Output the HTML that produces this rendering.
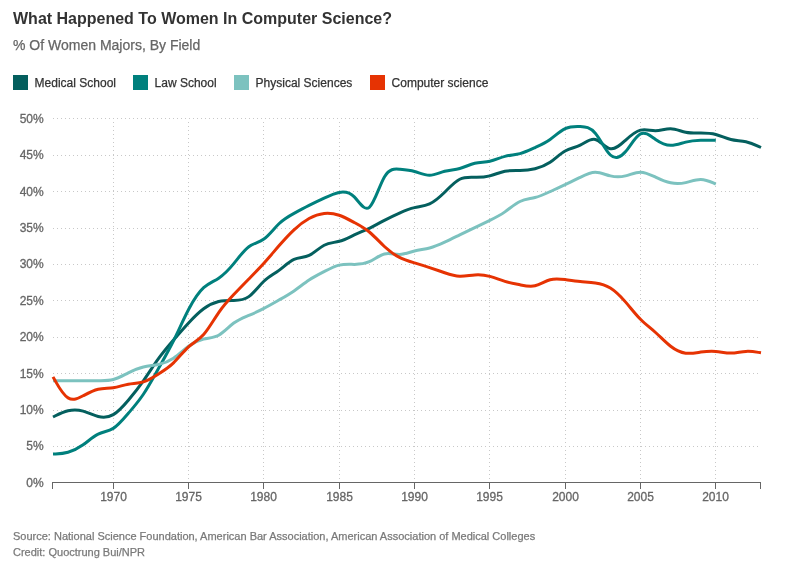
<!DOCTYPE html>
<html><head><meta charset="utf-8"><title>What Happened To Women In Computer Science?</title>
<style>
html,body{margin:0;padding:0;background:#fff;}
body{width:800px;height:568px;overflow:hidden;position:relative;will-change:transform;font-family:"Liberation Sans",sans-serif;}
h1{position:absolute;left:13px;top:10px;margin:0;font-size:16px;line-height:18px;font-weight:bold;color:#333;white-space:nowrap;}
h2{position:absolute;left:13px;top:36px;margin:0;font-size:14px;line-height:18px;font-weight:normal;color:#666;white-space:nowrap;-webkit-text-stroke:0.25px #666;}
.key{position:absolute;top:75px;height:15px;}
.key b{position:absolute;left:0;top:0;width:15px;height:15px;display:block;}
.key span{position:absolute;left:21.6px;top:1px;font-size:12px;line-height:15px;color:#333;white-space:nowrap;-webkit-text-stroke:0.25px #333;}
.foot{position:absolute;left:13px;font-size:11px;line-height:14px;color:#7a7a7a;white-space:nowrap;-webkit-text-stroke:0.25px #7a7a7a;}
svg{position:absolute;left:0;top:0;}
svg text{font-family:"Liberation Sans",sans-serif;font-size:12px;fill:#666;stroke:#666;stroke-width:0.3px;}
.grid line{stroke:#c8c8c8;stroke-width:1;stroke-dasharray:1,3;shape-rendering:crispEdges;}
.axis line,.axis path{stroke:#666;stroke-width:1;fill:none;shape-rendering:crispEdges;}
.lines path{fill:none;stroke-width:3;stroke-linejoin:round;}
</style></head><body>
<h1>What Happened To Women In Computer Science?</h1>
<h2>% Of Women Majors, By Field</h2>
<div class="key" style="left:13px"><b style="background:#045f5e"></b><span>Medical School</span></div>
<div class="key" style="left:133px"><b style="background:#00807d"></b><span>Law School</span></div>
<div class="key" style="left:234px"><b style="background:#7cc2bf"></b><span>Physical Sciences</span></div>
<div class="key" style="left:370px"><b style="background:#e63303"></b><span>Computer science</span></div>
<svg width="800" height="568" viewBox="0 0 800 568">
<g class="grid">
<line x1="53" x2="761" y1="446.5" y2="446.5"/>
<line x1="53" x2="761" y1="410.5" y2="410.5"/>
<line x1="53" x2="761" y1="373.5" y2="373.5"/>
<line x1="53" x2="761" y1="337.5" y2="337.5"/>
<line x1="53" x2="761" y1="300.5" y2="300.5"/>
<line x1="53" x2="761" y1="264.5" y2="264.5"/>
<line x1="53" x2="761" y1="228.5" y2="228.5"/>
<line x1="53" x2="761" y1="191.5" y2="191.5"/>
<line x1="53" x2="761" y1="155.5" y2="155.5"/>
<line x1="53" x2="761" y1="118.5" y2="118.5"/>
<line x1="113.5" x2="113.5" y1="122" y2="482"/>
<line x1="188.5" x2="188.5" y1="122" y2="482"/>
<line x1="263.5" x2="263.5" y1="122" y2="482"/>
<line x1="339.5" x2="339.5" y1="122" y2="482"/>
<line x1="414.5" x2="414.5" y1="122" y2="482"/>
<line x1="489.5" x2="489.5" y1="122" y2="482"/>
<line x1="565.5" x2="565.5" y1="122" y2="482"/>
<line x1="640.5" x2="640.5" y1="122" y2="482"/>
<line x1="715.5" x2="715.5" y1="122" y2="482"/>
</g>
<g class="axis">
<path d="M52.5,488.5V482.5H760.5V488.5"/>
<line x1="113.5" x2="113.5" y1="482.5" y2="488.5"/>
<line x1="188.5" x2="188.5" y1="482.5" y2="488.5"/>
<line x1="263.5" x2="263.5" y1="482.5" y2="488.5"/>
<line x1="339.5" x2="339.5" y1="482.5" y2="488.5"/>
<line x1="414.5" x2="414.5" y1="482.5" y2="488.5"/>
<line x1="489.5" x2="489.5" y1="482.5" y2="488.5"/>
<line x1="565.5" x2="565.5" y1="482.5" y2="488.5"/>
<line x1="640.5" x2="640.5" y1="482.5" y2="488.5"/>
<line x1="715.5" x2="715.5" y1="482.5" y2="488.5"/>
</g>
<g class="ylab">
<text x="43.7" y="487.0" text-anchor="end">0%</text>
<text x="43.7" y="450.0" text-anchor="end">5%</text>
<text x="43.7" y="414.0" text-anchor="end">10%</text>
<text x="43.7" y="378.0" text-anchor="end">15%</text>
<text x="43.7" y="341.0" text-anchor="end">20%</text>
<text x="43.7" y="305.0" text-anchor="end">25%</text>
<text x="43.7" y="268.0" text-anchor="end">30%</text>
<text x="43.7" y="232.0" text-anchor="end">35%</text>
<text x="43.7" y="196.0" text-anchor="end">40%</text>
<text x="43.7" y="159.0" text-anchor="end">45%</text>
<text x="43.7" y="123.0" text-anchor="end">50%</text>
</g>
<g class="xlab">
<text x="113.5" y="500.6" text-anchor="middle">1970</text>
<text x="188.5" y="500.6" text-anchor="middle">1975</text>
<text x="263.5" y="500.6" text-anchor="middle">1980</text>
<text x="339.5" y="500.6" text-anchor="middle">1985</text>
<text x="414.5" y="500.6" text-anchor="middle">1990</text>
<text x="489.5" y="500.6" text-anchor="middle">1995</text>
<text x="565.5" y="500.6" text-anchor="middle">2000</text>
<text x="640.5" y="500.6" text-anchor="middle">2005</text>
<text x="715.5" y="500.6" text-anchor="middle">2010</text>
</g>
<g class="lines">
<path d="M53.00,417.02C53.00,417.02,53.00,417.02,55.51,415.74C58.02,414.46,63.04,411.90,68.06,410.70C73.09,409.49,78.11,409.64,83.13,411.08C88.15,412.52,93.17,415.25,98.19,416.51C103.21,417.77,108.23,417.56,113.26,414.65C118.28,411.75,123.30,406.13,128.32,400.18C133.34,394.24,138.36,387.95,143.38,380.80C148.40,373.65,153.43,365.62,158.45,358.68C163.47,351.75,168.49,345.89,173.51,340.05C178.53,334.21,183.55,328.39,188.57,322.97C193.60,317.54,198.62,312.51,203.64,308.78C208.66,305.05,213.68,302.63,218.70,301.49C223.72,300.35,228.74,300.48,233.77,300.45C238.79,300.42,243.81,300.24,248.83,296.63C253.85,293.02,258.87,285.99,263.89,281.26C268.91,276.54,273.94,274.12,278.96,270.40C283.98,266.68,289.00,261.66,294.02,259.44C299.04,257.22,304.06,257.79,309.09,255.44C314.11,253.10,319.13,247.84,324.15,245.23C329.17,242.62,334.19,242.67,339.21,241.32C344.23,239.98,349.26,237.26,354.28,234.94C359.30,232.62,364.32,230.70,369.34,228.29C374.36,225.89,379.38,223.00,384.40,220.34C389.43,217.68,394.45,215.24,399.47,213.02C404.49,210.79,409.51,208.77,414.53,207.63C419.55,206.49,424.57,206.21,429.60,203.90C434.62,201.58,439.64,197.21,444.66,192.26C449.68,187.32,454.70,181.79,459.72,179.27C464.74,176.74,469.77,177.22,474.79,177.33C479.81,177.44,484.83,177.18,489.85,175.88C494.87,174.58,499.89,172.25,504.91,171.23C509.94,170.22,514.96,170.52,519.98,170.41C525.00,170.31,530.02,169.80,535.04,168.67C540.06,167.54,545.09,165.79,550.11,162.35C555.13,158.91,560.15,153.77,565.17,150.95C570.19,148.12,575.21,147.60,580.23,145.12C585.26,142.63,590.28,138.18,595.30,139.44C600.32,140.70,605.34,147.67,610.36,148.72C615.38,149.78,620.40,144.91,625.43,140.31C630.45,135.71,635.47,131.38,640.49,130.13C645.51,128.89,650.53,130.72,655.55,130.64C660.57,130.56,665.60,128.57,670.62,128.71C675.64,128.85,680.66,131.12,685.68,132.16C690.70,133.19,695.72,132.98,700.74,132.97C705.77,132.96,710.79,133.14,715.81,134.46C720.83,135.78,725.85,138.24,730.87,139.45C735.89,140.65,740.91,140.61,745.94,141.75C750.96,142.88,755.98,145.19,758.49,146.35C761.00,147.50,761.00,147.50,761.00,147.50" stroke="#045f5e"/>
<path d="M53.00,454.01C53.00,454.01,53.00,454.01,55.51,453.89C58.02,453.77,63.04,453.53,68.06,452.19C73.09,450.86,78.11,448.42,83.13,444.84C88.15,441.27,93.17,436.55,98.19,434.11C103.21,431.67,108.23,431.51,113.26,428.40C118.28,425.29,123.30,419.23,128.32,413.34C133.34,407.45,138.36,401.72,143.38,394.23C148.40,386.75,153.43,377.51,158.45,368.54C163.47,359.56,168.49,350.85,173.51,340.74C178.53,330.62,183.55,319.10,188.57,309.52C193.60,299.95,198.62,292.33,203.64,287.72C208.66,283.11,213.68,281.50,218.70,278.15C223.72,274.79,228.74,269.68,233.77,263.58C238.79,257.48,243.81,250.39,248.83,246.69C253.85,242.99,258.87,242.67,263.89,239.07C268.91,235.46,273.94,228.56,278.96,223.72C283.98,218.88,289.00,216.09,294.02,213.35C299.04,210.62,304.06,207.93,309.09,205.40C314.11,202.88,319.13,200.50,324.15,198.14C329.17,195.78,334.19,193.44,339.21,192.48C344.23,191.52,349.26,191.95,354.28,196.92C359.30,201.89,364.32,211.39,369.34,207.31C374.36,203.22,379.38,185.55,384.40,176.94C389.43,168.34,394.45,168.81,399.47,169.24C404.49,169.68,409.51,170.08,414.53,171.50C419.55,172.92,424.57,175.36,429.60,175.28C434.62,175.21,439.64,172.62,444.66,171.29C449.68,169.97,454.70,169.90,459.72,168.53C464.74,167.16,469.77,164.47,474.79,163.27C479.81,162.07,484.83,162.36,489.85,161.26C494.87,160.15,499.89,157.65,504.91,156.34C509.94,155.03,514.96,154.91,519.98,153.64C525.00,152.36,530.02,149.94,535.04,147.58C540.06,145.23,545.09,142.95,550.11,139.42C555.13,135.90,560.15,131.12,565.17,128.70C570.19,126.28,575.21,126.23,580.23,126.48C585.26,126.73,590.28,127.28,595.30,133.19C600.32,139.10,605.34,150.37,610.36,154.99C615.38,159.62,620.40,157.60,625.43,151.80C630.45,146.00,635.47,136.42,640.49,133.91C645.51,131.40,650.53,135.95,655.55,139.40C660.57,142.85,665.60,145.19,670.62,145.32C675.64,145.45,680.66,143.36,685.68,142.10C690.70,140.84,695.72,140.40,700.74,140.23C705.77,140.05,710.79,140.15,713.30,140.19C715.81,140.24,715.81,140.24,715.81,140.24" stroke="#00807d"/>
<path d="M53.00,380.84C53.00,380.84,53.00,380.84,55.51,380.84C58.02,380.84,63.04,380.84,68.06,380.85C73.09,380.86,78.11,380.89,83.13,380.83C88.15,380.77,93.17,380.63,98.19,380.66C103.21,380.69,108.23,380.89,113.26,379.56C118.28,378.23,123.30,375.35,128.32,372.86C133.34,370.36,138.36,368.24,143.38,367.03C148.40,365.82,153.43,365.51,158.45,364.46C163.47,363.41,168.49,361.60,173.51,358.24C178.53,354.87,183.55,349.95,188.57,346.28C193.60,342.61,198.62,340.20,203.64,339.05C208.66,337.89,213.68,337.99,218.70,335.22C223.72,332.45,228.74,326.81,233.77,323.07C238.79,319.33,243.81,317.50,248.83,315.42C253.85,313.34,258.87,311.02,263.89,308.41C268.91,305.80,273.94,302.91,278.96,300.05C283.98,297.19,289.00,294.36,294.02,290.90C299.04,287.45,304.06,283.36,309.09,280.05C314.11,276.75,319.13,274.22,324.15,271.60C329.17,268.99,334.19,266.29,339.21,265.13C344.23,263.98,349.26,264.36,354.28,264.38C359.30,264.39,364.32,264.02,369.34,261.72C374.36,259.41,379.38,255.17,384.40,253.95C389.43,252.73,394.45,254.53,399.47,254.41C404.49,254.29,409.51,252.24,414.53,250.98C419.55,249.72,424.57,249.24,429.60,247.94C434.62,246.63,439.64,244.50,444.66,242.17C449.68,239.85,454.70,237.34,459.72,234.88C464.74,232.42,469.77,230.00,474.79,227.59C479.81,225.19,484.83,222.80,489.85,220.35C494.87,217.90,499.89,215.39,504.91,211.88C509.94,208.37,514.96,203.87,519.98,201.48C525.00,199.10,530.02,198.84,535.04,197.54C540.06,196.24,545.09,193.90,550.11,191.59C555.13,189.29,560.15,187.02,565.17,184.65C570.19,182.28,575.21,179.80,580.23,177.33C585.26,174.86,590.28,172.39,595.30,172.35C600.32,172.30,605.34,174.67,610.36,175.87C615.38,177.08,620.40,177.11,625.43,175.87C630.45,174.63,635.47,172.11,640.49,172.13C645.51,172.15,650.53,174.71,655.55,177.11C660.57,179.52,665.60,181.78,670.62,182.84C675.64,183.90,680.66,183.77,685.68,182.64C690.70,181.51,695.72,179.39,700.74,179.47C705.77,179.55,710.79,181.83,713.30,182.97C715.81,184.12,715.81,184.12,715.81,184.12" stroke="#7cc2bf"/>
<path d="M53.00,376.88C53.00,376.88,53.00,376.88,55.51,381.34C58.02,385.80,63.04,394.73,68.06,397.88C73.09,401.03,78.11,398.42,83.13,395.76C88.15,393.10,93.17,390.40,98.19,389.24C103.21,388.07,108.23,388.44,113.26,387.69C118.28,386.95,123.30,385.08,128.32,384.20C133.34,383.31,138.36,383.40,143.38,381.86C148.40,380.31,153.43,377.14,158.45,374.01C163.47,370.88,168.49,367.80,173.51,362.90C178.53,357.99,183.55,351.26,188.57,346.79C193.60,342.31,198.62,340.08,203.64,334.45C208.66,328.82,213.68,319.77,218.70,312.53C223.72,305.28,228.74,299.84,233.77,294.53C238.79,289.22,243.81,284.05,248.83,278.95C253.85,273.84,258.87,268.81,263.89,263.25C268.91,257.70,273.94,251.61,278.96,245.81C283.98,240.00,289.00,234.46,294.02,229.79C299.04,225.11,304.06,221.29,309.09,218.50C314.11,215.71,319.13,213.95,324.15,213.40C329.17,212.86,334.19,213.52,339.21,215.24C344.23,216.96,349.26,219.74,354.28,222.46C359.30,225.19,364.32,227.86,369.34,232.02C374.36,236.18,379.38,241.82,384.40,246.50C389.43,251.17,394.45,254.87,399.47,257.44C404.49,260.01,409.51,261.43,414.53,262.92C419.55,264.41,424.57,265.97,429.60,267.63C434.62,269.29,439.64,271.05,444.66,272.76C449.68,274.47,454.70,276.12,459.72,276.33C464.74,276.54,469.77,275.32,474.79,274.95C479.81,274.58,484.83,275.06,489.85,276.39C494.87,277.72,499.89,279.91,504.91,281.43C509.94,282.96,514.96,283.82,519.98,284.81C525.00,285.80,530.02,286.90,535.04,285.74C540.06,284.58,545.09,281.15,550.11,279.74C555.13,278.33,560.15,278.95,565.17,279.61C570.19,280.28,575.21,281.00,580.23,281.47C585.26,281.95,590.28,282.17,595.30,282.92C600.32,283.66,605.34,284.93,610.36,288.04C615.38,291.16,620.40,296.12,625.43,301.88C630.45,307.63,635.47,314.17,640.49,319.27C645.51,324.36,650.53,328.00,655.55,332.50C660.57,337.00,665.60,342.36,670.62,346.23C675.64,350.10,680.66,352.49,685.68,353.17C690.70,353.84,695.72,352.82,700.74,352.09C705.77,351.37,710.79,350.95,715.81,351.40C720.83,351.85,725.85,353.16,730.87,353.12C735.89,353.08,740.91,351.69,745.94,351.41C750.96,351.13,755.98,351.97,758.49,352.38C761.00,352.80,761.00,352.80,761.00,352.80" stroke="#e63303"/>
</g>
</svg>
<div class="foot" style="top:529px">Source: National Science Foundation, American Bar Association, American Association of Medical Colleges</div>
<div class="foot" style="top:545px">Credit: Quoctrung Bui/NPR</div>
</body></html>
